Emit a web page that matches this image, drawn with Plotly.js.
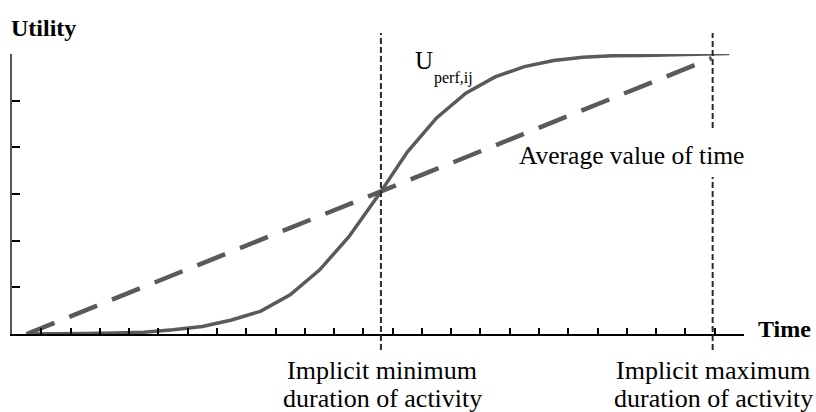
<!DOCTYPE html>
<html>
<head>
<meta charset="utf-8">
<script src="https://cdn.plot.ly/plotly-3.0.1.min.js"></script>
<style>html,body{margin:0;padding:0;background:#fff;}#chart{width:816px;height:412px;}</style>
</head>
<body>
<div id="chart"></div>
<script>
// Data (x in tick units along Time axis, y in tick units along Utility axis)
const perfTime = [0.5, 1.5, 2.5, 3.5, 4.5, 5.5, 6.5, 7.5, 8.5, 9.5, 10.5, 11.5, 12.5,
                  13.5, 14.5, 15.5, 16.5, 17.5, 18.5, 19.5, 20.5, 21.5, 22.5, 23.5, 24.5];
const perfUtility = [0, 0, 0.01, 0.02, 0.04, 0.09, 0.16, 0.30, 0.49, 0.84, 1.37, 2.08, 2.96,
                     3.90, 4.63, 5.16, 5.51, 5.73, 5.86, 5.93, 5.96, 5.97, 5.98, 6.0, 6.01];
const avgTime = [0.5, 23.9];
const avgUtility = [0, 5.91];
const minDuration = 12.6;
const maxDuration = 23.93;

const L = 12, R = 744, T = 54, B = 334;
const px = x => (x - L) / (R - L);
const py = y => (B - y) / (B - T);
const serif = "Liberation Serif";

const traces = [
  {x: perfTime, y: perfUtility, type: 'scatter', mode: 'lines',
   line: {color: '#5a5a5a', width: 3.5}, hoverinfo: 'skip', cliponaxis: false},
  {x: avgTime, y: avgUtility, type: 'scatter', mode: 'lines',
   line: {color: '#5a5a5a', width: 4.5, dash: '30px,16px'}, hoverinfo: 'skip', cliponaxis: false}
];

const vdash = {color: '#2a2a2a', width: 2, dash: '6px,3px'};
const shapes = [
  {type: 'line', xref: 'x', yref: 'paper', x0: minDuration, x1: minDuration, y0: py(350), y1: py(33), line: vdash, layer: 'above'},
  {type: 'line', xref: 'x', yref: 'paper', x0: maxDuration, x1: maxDuration, y0: py(128), y1: py(33), line: vdash, layer: 'above'},
  {type: 'line', xref: 'x', yref: 'paper', x0: maxDuration, x1: maxDuration, y0: py(350), y1: py(177), line: vdash, layer: 'above'}
];

function ann(text, x, y, size, opts) {
  return Object.assign({text: text, xref: 'paper', yref: 'paper', x: px(x), y: py(y),
    showarrow: false, xanchor: 'left', yanchor: 'middle',
    font: {family: serif, size: size, color: '#000'}}, opts || {});
}

const annotations = [
  ann('<b>Utility</b>', 9, 28, 24),
  ann('<b>Time</b>', 756, 329, 24),
  ann('U', 413, 60, 25),
  ann('perf,ij', 432, 78, 16),
  ann('Average value of time', 517, 155, 25.5),
  ann('Implicit minimum', 382, 370, 26, {xanchor: 'center'}),
  ann('duration of activity', 382, 398, 26, {xanchor: 'center'}),
  ann('Implicit maximum', 713, 370, 26, {xanchor: 'center'}),
  ann('duration of activity', 713, 398, 26, {xanchor: 'center'})
];

const layout = {
  width: 816, height: 412,
  margin: {l: L, r: 816 - R, t: T, b: 412 - B, pad: 0},
  paper_bgcolor: '#fff', plot_bgcolor: '#fff',
  showlegend: false,
  font: {family: serif},
  xaxis: {range: [0, 25], dtick: 1, tick0: 0, ticks: 'inside', ticklen: 6, tickwidth: 2, tickcolor: '#000',
          showticklabels: false, showgrid: false, zeroline: false, showline: true, linecolor: '#000', linewidth: 2},
  yaxis: {range: [0, 6], dtick: 1, tick0: 0, ticks: 'inside', ticklen: 8, tickwidth: 2, tickcolor: '#000',
          showticklabels: false, showgrid: false, zeroline: false, showline: true, linecolor: '#555', linewidth: 2},
  shapes: shapes,
  annotations: annotations
};

Plotly.newPlot('chart', traces, layout, {staticPlot: true, displayModeBar: false});
</script>
</body>
</html>
